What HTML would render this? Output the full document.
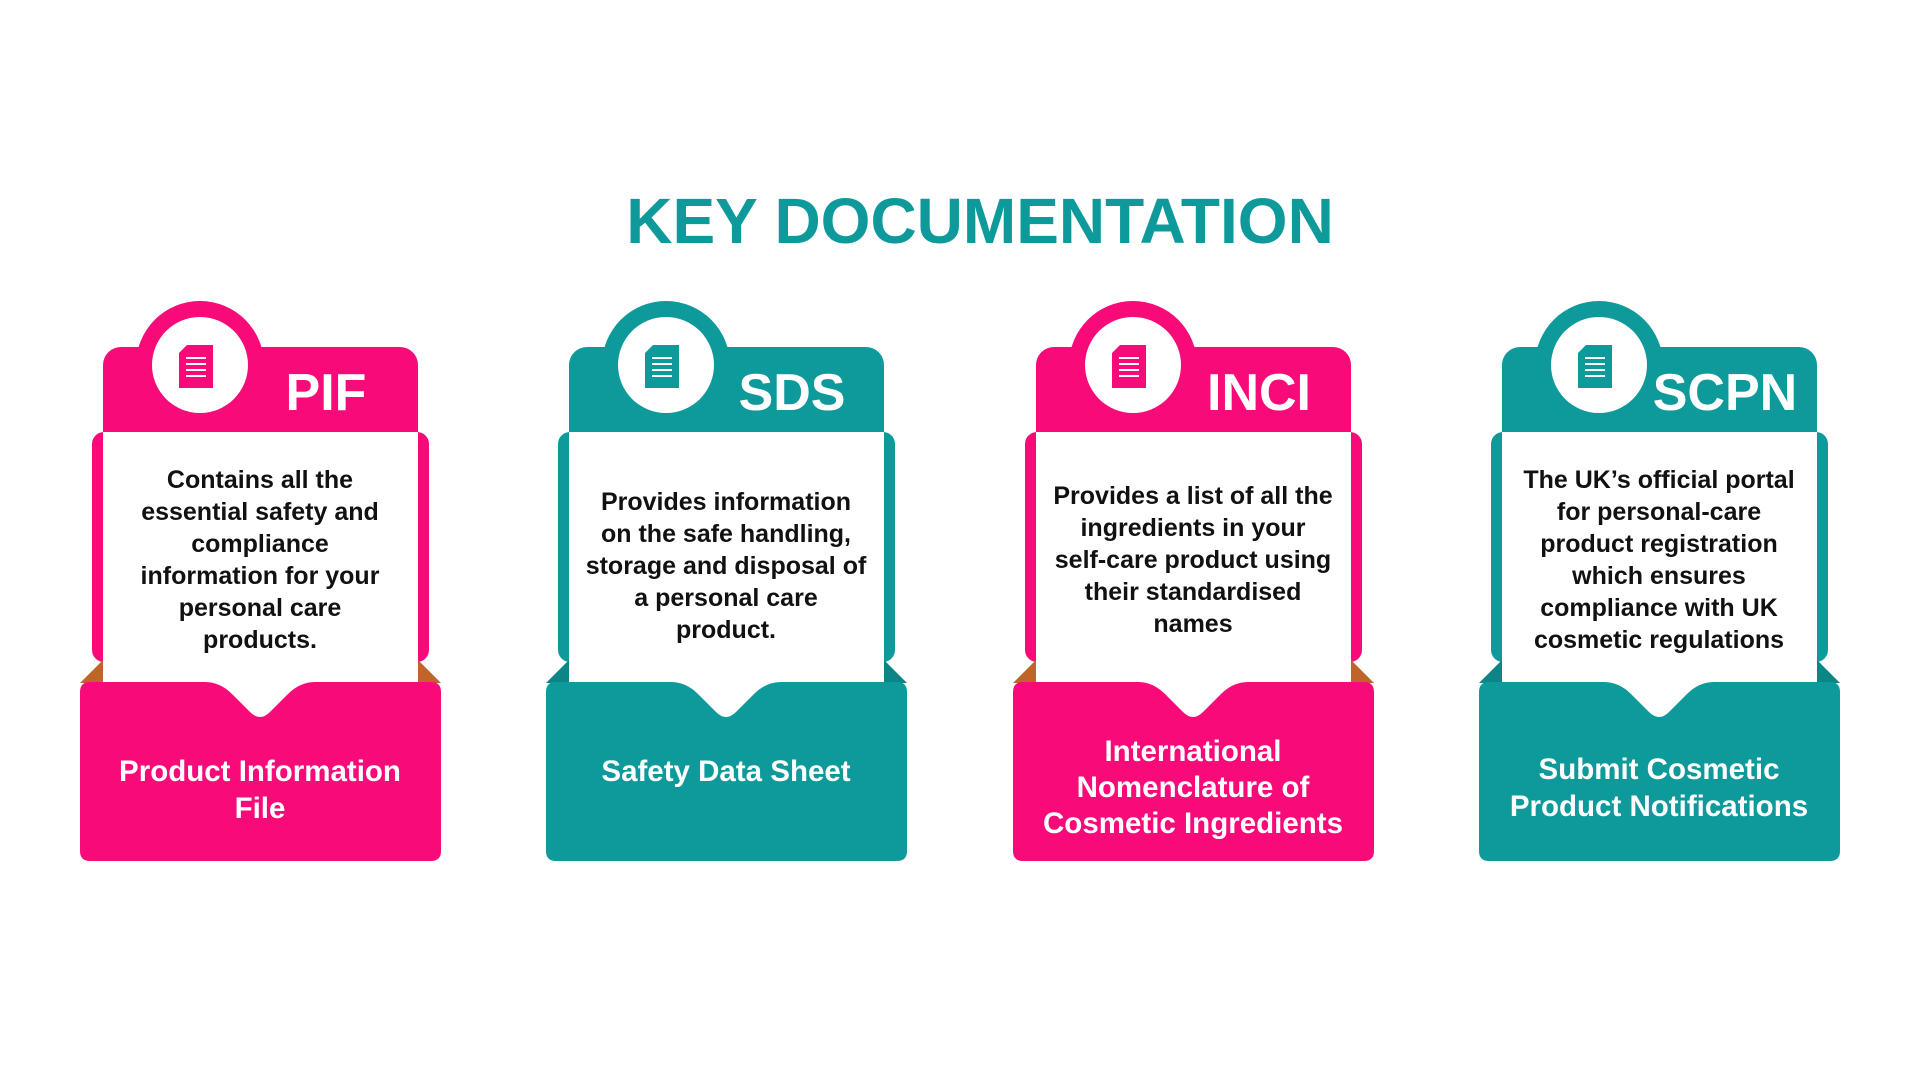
<!DOCTYPE html>
<html><head><meta charset="utf-8"><style>
html,body{margin:0;padding:0;background:#fff;}
svg{display:block;}
text{font-family:"Liberation Sans",Arial,sans-serif;font-weight:bold;}
</style></head><body>
<svg width="1920" height="1080" viewBox="0 0 1920 1080" xmlns="http://www.w3.org/2000/svg">
<text x="980" y="243" font-size="64" fill="#0e9a9a" text-anchor="middle">KEY DOCUMENTATION</text>

<!-- Card 1 PIF -->
<g transform="translate(80,0)">
 <rect x="12" y="432" width="337" height="230" rx="12" fill="#f80a78"/>
 <polygon points="0,683 23,660 23,683" fill="#c0652a"/>
 <polygon points="361,683 338,660 338,683" fill="#c0652a"/>
 <rect x="23" y="347" width="315" height="110" rx="18" fill="#f80a78"/>
 <circle cx="120" cy="365" r="64" fill="#f80a78"/>
 <rect x="23" y="432" width="315" height="260" fill="#fff"/>
 <path d="M0,692 Q0,682 10,682 L125,682 Q140,682 152,694 L170,712 Q180,722 190,712 L208,694 Q220,682 235,682 L351,682 Q361,682 361,692 L361,851 Q361,861 351,861 L10,861 Q0,861 0,851 Z" fill="#f80a78"/>
 <circle cx="120" cy="365" r="48" fill="#fff"/>
 <path d="M107,345 L133,345 L133,388 L99,388 L99,353 Z" fill="#f80a78"/>
 <g stroke="#fff" stroke-width="2"><line x1="106" y1="358" x2="126" y2="358"/><line x1="106" y1="364" x2="126" y2="364"/><line x1="106" y1="370" x2="126" y2="370"/><line x1="106" y1="376" x2="126" y2="376"/></g>
 <text x="246" y="410" font-size="52" fill="#fff" text-anchor="middle">PIF</text>
 <g font-size="25" fill="#111" text-anchor="middle">
  <text x="180" y="488">Contains all the</text>
  <text x="180" y="520">essential safety and</text>
  <text x="180" y="552">compliance</text>
  <text x="180" y="584">information for your</text>
  <text x="180" y="616">personal care</text>
  <text x="180" y="648">products.</text>
 </g>
 <g font-size="29.5" fill="#fff" text-anchor="middle">
  <text x="180" y="781">Product Information</text>
  <text x="180" y="818">File</text>
 </g>
</g>

<!-- Card 2 SDS -->
<g transform="translate(546,0)">
 <rect x="12" y="432" width="337" height="230" rx="12" fill="#0e9a9a"/>
 <polygon points="0,683 23,660 23,683" fill="#0b8585"/>
 <polygon points="361,683 338,660 338,683" fill="#0b8585"/>
 <rect x="23" y="347" width="315" height="110" rx="18" fill="#0e9a9a"/>
 <circle cx="120" cy="365" r="64" fill="#0e9a9a"/>
 <rect x="23" y="432" width="315" height="260" fill="#fff"/>
 <path d="M0,692 Q0,682 10,682 L125,682 Q140,682 152,694 L170,712 Q180,722 190,712 L208,694 Q220,682 235,682 L351,682 Q361,682 361,692 L361,851 Q361,861 351,861 L10,861 Q0,861 0,851 Z" fill="#0e9a9a"/>
 <circle cx="120" cy="365" r="48" fill="#fff"/>
 <path d="M107,345 L133,345 L133,388 L99,388 L99,353 Z" fill="#0e9a9a"/>
 <g stroke="#fff" stroke-width="2"><line x1="106" y1="358" x2="126" y2="358"/><line x1="106" y1="364" x2="126" y2="364"/><line x1="106" y1="370" x2="126" y2="370"/><line x1="106" y1="376" x2="126" y2="376"/></g>
 <text x="246" y="410" font-size="52" fill="#fff" text-anchor="middle">SDS</text>
 <g font-size="25" fill="#111" text-anchor="middle">
  <text x="180" y="510">Provides information</text>
  <text x="180" y="542">on the safe handling,</text>
  <text x="180" y="574">storage and disposal of</text>
  <text x="180" y="606">a personal care</text>
  <text x="180" y="638">product.</text>
 </g>
 <g font-size="29.5" fill="#fff" text-anchor="middle">
  <text x="180" y="781">Safety Data Sheet</text>
 </g>
</g>

<!-- Card 3 INCI -->
<g transform="translate(1013,0)">
 <rect x="12" y="432" width="337" height="230" rx="12" fill="#f80a78"/>
 <polygon points="0,683 23,660 23,683" fill="#c0652a"/>
 <polygon points="361,683 338,660 338,683" fill="#c0652a"/>
 <rect x="23" y="347" width="315" height="110" rx="18" fill="#f80a78"/>
 <circle cx="120" cy="365" r="64" fill="#f80a78"/>
 <rect x="23" y="432" width="315" height="260" fill="#fff"/>
 <path d="M0,692 Q0,682 10,682 L125,682 Q140,682 152,694 L170,712 Q180,722 190,712 L208,694 Q220,682 235,682 L351,682 Q361,682 361,692 L361,851 Q361,861 351,861 L10,861 Q0,861 0,851 Z" fill="#f80a78"/>
 <circle cx="120" cy="365" r="48" fill="#fff"/>
 <path d="M107,345 L133,345 L133,388 L99,388 L99,353 Z" fill="#f80a78"/>
 <g stroke="#fff" stroke-width="2"><line x1="106" y1="358" x2="126" y2="358"/><line x1="106" y1="364" x2="126" y2="364"/><line x1="106" y1="370" x2="126" y2="370"/><line x1="106" y1="376" x2="126" y2="376"/></g>
 <text x="246" y="410" font-size="52" fill="#fff" text-anchor="middle">INCI</text>
 <g font-size="25" fill="#111" text-anchor="middle">
  <text x="180" y="504">Provides a list of all the</text>
  <text x="180" y="536">ingredients in your</text>
  <text x="180" y="568">self-care product using</text>
  <text x="180" y="600">their standardised</text>
  <text x="180" y="632">names</text>
 </g>
 <g font-size="29.5" fill="#fff" text-anchor="middle">
  <text x="180" y="761">International</text>
  <text x="180" y="797">Nomenclature of</text>
  <text x="180" y="833">Cosmetic Ingredients</text>
 </g>
</g>

<!-- Card 4 SCPN -->
<g transform="translate(1479,0)">
 <rect x="12" y="432" width="337" height="230" rx="12" fill="#0e9a9a"/>
 <polygon points="0,683 23,660 23,683" fill="#0b8585"/>
 <polygon points="361,683 338,660 338,683" fill="#0b8585"/>
 <rect x="23" y="347" width="315" height="110" rx="18" fill="#0e9a9a"/>
 <circle cx="120" cy="365" r="64" fill="#0e9a9a"/>
 <rect x="23" y="432" width="315" height="260" fill="#fff"/>
 <path d="M0,692 Q0,682 10,682 L125,682 Q140,682 152,694 L170,712 Q180,722 190,712 L208,694 Q220,682 235,682 L351,682 Q361,682 361,692 L361,851 Q361,861 351,861 L10,861 Q0,861 0,851 Z" fill="#0e9a9a"/>
 <circle cx="120" cy="365" r="48" fill="#fff"/>
 <path d="M107,345 L133,345 L133,388 L99,388 L99,353 Z" fill="#0e9a9a"/>
 <g stroke="#fff" stroke-width="2"><line x1="106" y1="358" x2="126" y2="358"/><line x1="106" y1="364" x2="126" y2="364"/><line x1="106" y1="370" x2="126" y2="370"/><line x1="106" y1="376" x2="126" y2="376"/></g>
 <text x="246" y="410" font-size="52" fill="#fff" text-anchor="middle">SCPN</text>
 <g font-size="25" fill="#111" text-anchor="middle">
  <text x="180" y="488">The UK’s official portal</text>
  <text x="180" y="520">for personal-care</text>
  <text x="180" y="552">product registration</text>
  <text x="180" y="584">which ensures</text>
  <text x="180" y="616">compliance with UK</text>
  <text x="180" y="648">cosmetic regulations</text>
 </g>
 <g font-size="29.5" fill="#fff" text-anchor="middle">
  <text x="180" y="779">Submit Cosmetic</text>
  <text x="180" y="816">Product Notifications</text>
 </g>
</g>
</svg>
</body></html>
